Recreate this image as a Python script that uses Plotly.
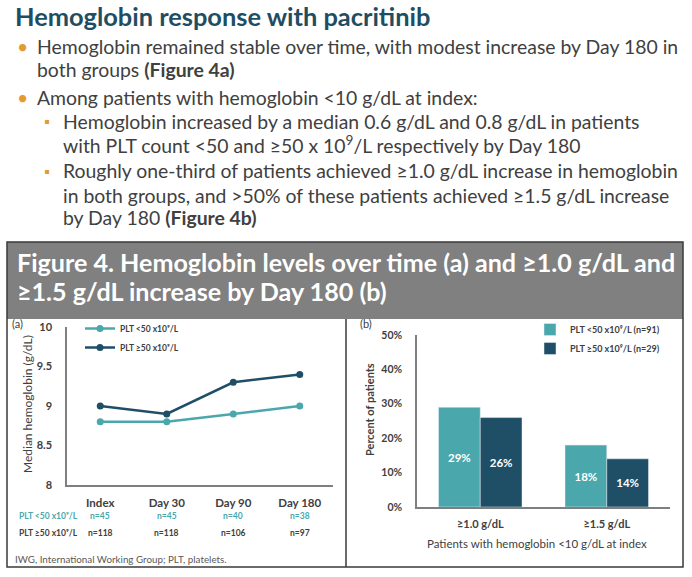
import plotly.graph_objects as go

# data
timepoints = ["Index", "Day 30", "Day 90", "Day 180"]
hb_low = [8.8, 8.8, 8.9, 9.0]
hb_high = [9.0, 8.9, 9.3, 9.4]
n_low = [45, 45, 40, 38]
n_high = [118, 118, 106, 97]

thresholds = ["≥1.0 g/dL", "≥1.5 g/dL"]
pct_low = [29, 18]
pct_high = [26, 14]

W, H = 692, 577
FONT = "Lato, Carlito, Calibri, sans-serif"
TEAL = "#4aa8ac"
DARK = "#1f4f66"
GREY = "#404040"
ORANGE = "#e39b2f"


def px(x):
    return x / W


def py(y):
    return 1 - y / H


fig = go.Figure()

fig.add_trace(go.Scatter(x=timepoints, y=hb_low, name="PLT <50 x10⁹/L", mode="lines+markers",
                         line=dict(color=TEAL, width=2.5), marker=dict(size=7, color=TEAL),
                         xaxis="x", yaxis="y", legend="legend"))
fig.add_trace(go.Scatter(x=timepoints, y=hb_high, name="PLT ≥50 x10⁹/L", mode="lines+markers",
                         line=dict(color=DARK, width=2.5), marker=dict(size=7, color=DARK),
                         xaxis="x", yaxis="y", legend="legend"))

bar_font = dict(color="white", size=11.5, family=FONT, weight="bold")
fig.add_trace(go.Bar(x=thresholds, y=pct_low, name="PLT <50 x10⁹/L (n=91)", marker_color=TEAL,
                     text=[f"{v}%" for v in pct_low], textposition="inside", insidetextanchor="middle",
                     textfont=bar_font, xaxis="x2", yaxis="y2", legend="legend2"))
fig.add_trace(go.Bar(x=thresholds, y=pct_high, name="PLT ≥50 x10⁹/L (n=29)", marker_color=DARK,
                     text=[f"{v}%" for v in pct_high], textposition="inside", insidetextanchor="middle",
                     textfont=bar_font, xaxis="x2", yaxis="y2", legend="legend2"))

tick_font = dict(family=FONT, color="#404040", weight="bold")
fig.update_layout(
    autosize=True,
    margin=dict(l=0, r=0, t=0, b=0, autoexpand=False),
    paper_bgcolor="white", plot_bgcolor="white",
    font=dict(family=FONT, color=GREY),
    barmode="group", bargap=0.34, bargroupgap=0,
    xaxis=dict(domain=[px(67), px(333)], anchor="y", type="category", range=[-0.5, 3.5],
               showline=True, linecolor="#7f7f7f", linewidth=1.5, showgrid=False, ticks="",
               tickfont=dict(tick_font, size=11.5), ticklabelstandoff=6),
    yaxis=dict(domain=[py(485), py(327)], anchor="x", range=[8, 10], dtick=0.5,
               showline=True, linecolor="#7f7f7f", linewidth=1.5, showgrid=False, ticks="",
               zeroline=False, tickfont=dict(tick_font, size=11), ticklabelstandoff=11),
    xaxis2=dict(domain=[px(417), px(670)], anchor="y2", type="category", range=[-0.5, 1.5],
                showline=True, linecolor="#7f7f7f", linewidth=1.5, showgrid=False, ticks="",
                tickfont=dict(tick_font, size=11), ticklabelstandoff=6),
    yaxis2=dict(domain=[py(507), py(335)], anchor="x2", range=[0, 50], dtick=10, ticksuffix="%",
                showline=True, linecolor="#7f7f7f", linewidth=1.5, showgrid=False, ticks="",
                zeroline=False, tickfont=dict(tick_font, size=10.5), ticklabelstandoff=11),
    legend=dict(x=px(80), y=py(314), xanchor="left", yanchor="top", bgcolor="rgba(0,0,0,0)",
                font=dict(family=FONT, size=8.5, color=GREY, weight="bold"), itemwidth=30,
                tracegroupgap=0),
    legend2=dict(x=px(530), y=py(315), xanchor="left", yanchor="top", bgcolor="rgba(0,0,0,0)",
                 font=dict(family=FONT, size=9, color=GREY, weight="bold"), itemwidth=30,
                 tracegroupgap=0),
)

shapes = [
    dict(type="rect", xref="paper", yref="paper", x0=px(7), x1=px(683), y0=py(319), y1=py(242),
         fillcolor="#808080", line=dict(width=0), layer="below"),
    dict(type="rect", xref="paper", yref="paper", x0=px(7), x1=px(683), y0=py(567), y1=py(242),
         line=dict(color="#3a3a3a", width=1.5)),
    dict(type="line", xref="paper", yref="paper", x0=px(346), x1=px(346), y0=py(567), y1=py(319),
         line=dict(color="#3a3a3a", width=1.5)),
]
fig.update_layout(shapes=shapes)

ann = []


def text(x, y, s, size, color=GREY, anchor="left", weight="normal", **kw):
    ann.append(dict(x=px(x), y=py(y), xref="paper", yref="paper", text=s, showarrow=False,
                    xanchor=anchor, yanchor="middle",
                    font=dict(family=FONT, size=size, color=color, weight=weight), **kw))


text(13, 16, "<b>Hemoglobin response with pacritinib</b>", 25.4, color="#1f4e63")

body = 19.4
text(15, 47, "•", body, color=ORANGE)
text(35, 47, "Hemoglobin remained stable over time, with modest increase by Day 180 in", body)
text(35, 70, "both groups <b>(Figure 4a)</b>", body)
text(15, 97, "•", body, color=ORANGE)
text(35, 97, "Among patients with hemoglobin &lt;10 g/dL at index:", body)
text(42, 121, "▪", 15, color=ORANGE)
text(61, 121, "Hemoglobin increased by a median 0.6 g/dL and 0.8 g/dL in patients", body)
text(61, 144, "with PLT count &lt;50 and ≥50 x 10<sup>9</sup>/L respectively by Day 180", body)
text(42, 171, "▪", 15, color=ORANGE)
text(61, 171, "Roughly one-third of patients achieved ≥1.0 g/dL increase in hemoglobin", body)
text(61, 195, "in both groups, and &gt;50% of these patients achieved ≥1.5 g/dL increase", body)
text(61, 218, "by Day 180 <b>(Figure 4b)</b>", body)

text(15, 262, "<b>Figure 4. Hemoglobin levels over time (a) and ≥1.0 g/dL and</b>", 25.1, color="white")
text(15, 291, "<b>≥1.5 g/dL increase by Day 180 (b)</b>", 25.1, color="white")

text(10, 323, "(a)", 11)
text(358, 323, "(b)", 11)

text(27, 404, "Median hemoglobin (g/dL)", 12, anchor="center", textangle=-90)
text(369, 410, "Percent of patients", 11, anchor="center", textangle=-90, weight="bold")
text(537, 543, "Patients with hemoglobin &lt;10 g/dL at index", 11.5, anchor="center")

text(17, 516, "PLT &lt;50 x10⁹/L", 8.5, color=TEAL, weight="bold")
text(17, 533, "PLT ≥50 x10⁹/L", 8.5, color=GREY, weight="bold")
for tp, a, b in zip(timepoints, n_low, n_high):
    ann.append(dict(x=tp, y=py(516), xref="x", yref="paper", text=f"n={a}", showarrow=False,
                    yanchor="middle", font=dict(family=FONT, size=8.5, color=TEAL, weight="bold")))
    ann.append(dict(x=tp, y=py(533), xref="x", yref="paper", text=f"n={b}", showarrow=False,
                    yanchor="middle", font=dict(family=FONT, size=8.5, color=GREY, weight="bold")))

text(13, 559, "IWG, International Working Group; PLT, platelets.", 9.8, color="#595959")

fig.update_layout(annotations=ann)

page_fix = ("var s=document.documentElement.style;s.margin='0';s.padding='0';s.overflow='hidden';"
            "var b=document.body.style;b.margin='0';b.padding='0';b.overflow='hidden';")
fig.write_html("out.html", config={"displayModeBar": False}, post_script=page_fix,
               default_width="100vw", default_height="100vh")
